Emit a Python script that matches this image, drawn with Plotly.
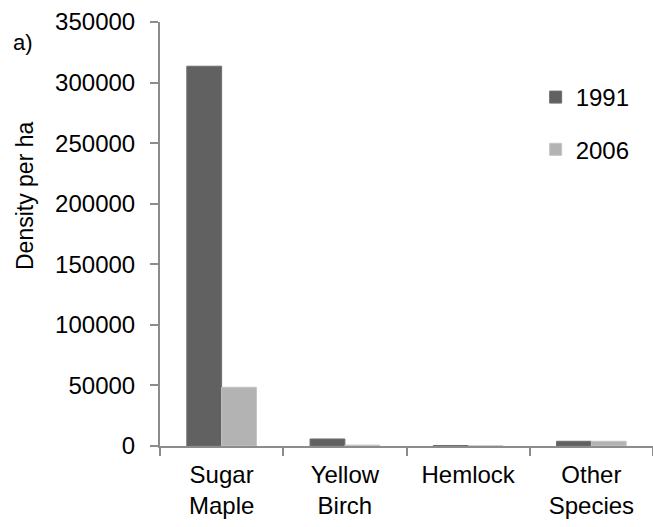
import plotly.graph_objects as go

categories = ["Sugar<br>Maple", "Yellow<br>Birch", "Hemlock", "Other<br>Species"]
density_1991 = [313500, 5800, 400, 3900]
density_2006 = [48500, 700, 100, 3900]
y_ticks = [0, 50000, 100000, 150000, 200000, 250000, 300000, 350000]

FAMILY = "Liberation Sans, Arial, sans-serif"
font = dict(family=FAMILY, size=24, color="#000000")

# plot area geometry in pixels (used to place the free-standing labels)
PLOT_LEFT, PLOT_WIDTH = 160, 493
PLOT_TOP, PLOT_BOTTOM = 22, 446

fig = go.Figure()
fig.add_trace(go.Bar(
    x=categories, y=density_1991, name="1991", legendgroup="a",
    marker=dict(color="#616161", line=dict(color="#6e6e6e", width=1)),
))
fig.add_trace(go.Bar(
    x=categories, y=density_2006, name="2006", legendgroup="b",
    marker=dict(color="#b3b3b3", line=dict(color="#c4c4c4", width=1)),
))

def px_x(x):
    return (x - PLOT_LEFT) / PLOT_WIDTH

def px_y(y):
    return (PLOT_BOTTOM - y) / (PLOT_BOTTOM - PLOT_TOP)

fig.update_layout(
    width=653, height=527,
    margin=dict(l=PLOT_LEFT, r=0, t=PLOT_TOP, b=527 - PLOT_BOTTOM),
    paper_bgcolor="white", plot_bgcolor="white",
    font=font,
    barmode="group", bargap=0.435, bargroupgap=0,
    showlegend=True,
    legend=dict(
        x=0.762, y=0.875, xanchor="left", yanchor="top",
        font=font, bgcolor="rgba(0,0,0,0)",
        traceorder="grouped", tracegroupgap=18,
        itemwidth=30,
    ),
    annotations=[
        dict(
            text="a)", xref="paper", yref="paper", x=px_x(23), y=px_y(42),
            xanchor="center", yanchor="middle", showarrow=False,
            font=dict(family=FAMILY, size=22, color="#000000"),
        ),
        dict(
            text="Density per ha", xref="paper", yref="paper",
            x=px_x(25), y=px_y(196), textangle=-90,
            xanchor="center", yanchor="middle", showarrow=False,
            font=dict(family=FAMILY, size=23, color="#000000"),
        ),
    ],
)

fig.update_xaxes(
    type="category", showline=True, linecolor="#8c8c8c", linewidth=2,
    ticks="outside", tickson="boundaries", ticklen=8, tickcolor="#8c8c8c",
    tickwidth=2, showgrid=False, tickfont=font, ticklabelstandoff=6,
)
fig.update_yaxes(
    range=[0, 350000], tickvals=y_ticks, ticktext=[str(v) for v in y_ticks],
    showline=True, linecolor="#8c8c8c", linewidth=2,
    ticks="outside", ticklen=8, tickcolor="#8c8c8c", tickwidth=2,
    showgrid=False, zeroline=False, tickfont=font, ticklabelstandoff=10,
)

fig.write_html("out.html")
